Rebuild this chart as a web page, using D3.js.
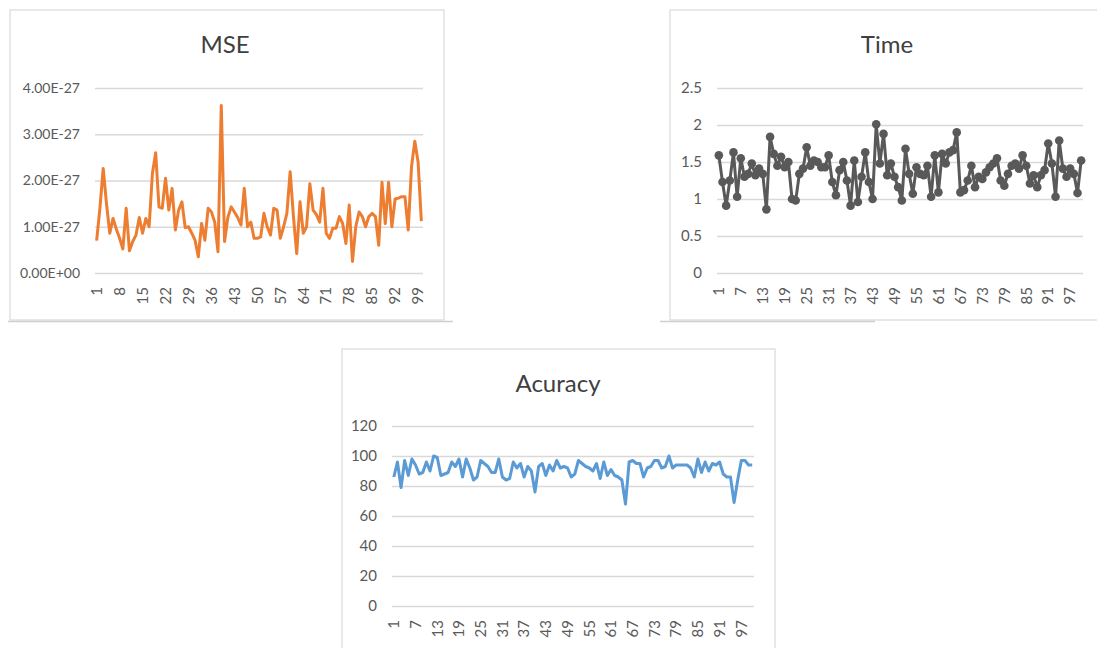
<!DOCTYPE html>
<html>
<head>
<meta charset="utf-8">
<script src="https://cdn.jsdelivr.net/npm/d3@7"></script>
<style>
  html, body { margin: 0; padding: 0; background: #ffffff; }
  svg { display: block; }
  text { font-family: Lato, "Open Sans", sans-serif; }
</style>
</head>
<body>
<svg id="chart" width="1097" height="648"></svg>
<script>
// Run index 1..100
const runs = d3.range(1, 101);

// MSE per run, mantissa in units of 1e-27
const mseMantissa = [
  0.70, 1.40, 2.26, 1.50, 0.86, 1.18, 0.95, 0.75, 0.52, 1.40,
  0.48, 0.68, 0.82, 1.20, 0.86, 1.18, 1.00, 2.15, 2.60, 1.43,
  1.40, 2.05, 1.36, 1.83, 0.93, 1.36, 1.54, 0.98, 1.00, 0.86,
  0.71, 0.35, 1.07, 0.71, 1.40, 1.32, 1.10, 0.46, 3.62, 0.68,
  1.20, 1.43, 1.32, 1.20, 1.04, 1.83, 1.00, 1.10, 0.75, 0.75,
  0.78, 1.29, 1.00, 0.82, 1.40, 1.36, 0.75, 1.00, 1.29, 2.19,
  1.22, 0.42, 1.54, 0.86, 1.00, 1.93, 1.36, 1.26, 1.10, 1.83,
  0.86, 0.75, 0.97, 0.97, 1.22, 1.07, 0.64, 1.47, 0.25, 1.00,
  1.32, 1.22, 1.00, 1.22, 1.29, 1.22, 0.60, 1.96, 1.07, 1.96,
  1.00, 1.60, 1.62, 1.65, 1.65, 0.93, 2.30, 2.85, 2.40, 1.12
];
const mseValues = mseMantissa.map(v => v * 1e-27);
const mseTicks = [0, 1e-27, 2e-27, 3e-27, 4e-27];

// Time per run
const timeValues = [
  1.59, 1.23, 0.91, 1.25, 1.63, 1.03, 1.55, 1.30, 1.34, 1.48,
  1.32, 1.41, 1.34, 0.86, 1.84, 1.61, 1.45, 1.57, 1.43, 1.50,
  1.00, 0.98, 1.34, 1.41, 1.70, 1.45, 1.52, 1.50, 1.43, 1.43,
  1.59, 1.23, 1.05, 1.39, 1.50, 1.25, 0.91, 1.52, 0.96, 1.30,
  1.63, 1.23, 1.00, 2.01, 1.48, 1.88, 1.32, 1.48, 1.30, 1.16,
  0.98, 1.68, 1.34, 1.07, 1.43, 1.34, 1.32, 1.45, 1.03, 1.59,
  1.09, 1.61, 1.48, 1.63, 1.66, 1.90, 1.09, 1.12, 1.25, 1.45,
  1.16, 1.30, 1.27, 1.36, 1.43, 1.48, 1.55, 1.25, 1.18, 1.34,
  1.45, 1.48, 1.41, 1.59, 1.45, 1.21, 1.32, 1.16, 1.32, 1.39,
  1.75, 1.48, 1.03, 1.79, 1.41, 1.30, 1.41, 1.34, 1.08, 1.52
];
const timeTicks = [0, 0.5, 1, 1.5, 2, 2.5];

// Accuracy per run
const accValues = [
  86, 96, 79, 97, 87, 98, 94, 88, 89, 96,
  90, 100, 99, 87, 88, 89, 96, 93, 98, 86,
  98, 92, 84, 86, 97, 95, 93, 89, 89, 98,
  86, 84, 85, 96, 92, 95, 86, 93, 90, 76,
  93, 95, 87, 94, 90, 97, 92, 93, 92, 86,
  88, 97, 95, 93, 92, 90, 95, 85, 96, 87,
  91, 87, 86, 84, 68, 96, 97, 95, 95, 86,
  92, 93, 97, 97, 92, 93, 100, 92, 94, 94,
  94, 94, 92, 86, 98, 89, 96, 90, 95, 94,
  96, 88, 86, 86, 69, 84, 97, 97, 94, 94
];
const accTicks = [0, 20, 40, 60, 80, 100, 120];

const svg = d3.select("#chart");
const GRID = "#d9d9d9";
const LABEL = "#595959";

function drawPanel(cfg) {
  const g = svg.append("g");

  // chart area frame
  g.append("rect")
    .attr("x", cfg.frame.x).attr("y", cfg.frame.y)
    .attr("width", cfg.frame.w).attr("height", cfg.frame.h)
    .attr("fill", "#ffffff").attr("stroke", GRID).attr("stroke-width", 1.2);

  // edge shadow line of the pasted chart
  if (cfg.edge) {
    g.append("line")
      .attr("x1", cfg.edge.x1).attr("x2", cfg.edge.x2)
      .attr("y1", cfg.edge.y).attr("y2", cfg.edge.y)
      .attr("stroke", "#cfcfcf").attr("stroke-width", 1.5);
  }

  const x = d3.scaleBand().domain(runs).range([cfg.plot.left, cfg.plot.right]).padding(0);
  const y = d3.scaleLinear().domain(cfg.yDomain).range([cfg.plot.bottom, cfg.plot.top]);
  const cx = d => x(d) + x.bandwidth() / 2;

  // horizontal gridlines with value labels
  const yAxis = d3.axisLeft(y)
    .tickValues(cfg.yTicks)
    .tickSize(-(cfg.plot.right - cfg.plot.left))
    .tickPadding(15)
    .tickFormat(cfg.yFormat);
  const ya = g.append("g")
    .attr("transform", `translate(${cfg.plot.left},0)`)
    .call(yAxis);
  ya.select(".domain").remove();
  ya.selectAll(".tick line").attr("stroke", GRID).attr("stroke-width", 1.6);
  ya.selectAll(".tick text")
    .attr("fill", LABEL)
    .style("font-size", cfg.yFontSize + "px");

  // rotated run labels
  const xAxis = d3.axisBottom(x)
    .tickValues(runs.filter(r => (r - 1) % cfg.xEvery === 0))
    .tickSize(0);
  const xa = g.append("g")
    .attr("transform", `translate(0,${cfg.plot.bottom})`)
    .call(xAxis);
  xa.select(".domain").remove();
  xa.selectAll(".tick text")
    .attr("transform", "rotate(-90)")
    .attr("x", -14)
    .attr("y", 0)
    .attr("dy", "0.35em")
    .attr("text-anchor", "end")
    .attr("fill", LABEL)
    .style("font-size", "15px");

  // title
  g.append("text")
    .attr("x", cfg.title.x).attr("y", cfg.title.y)
    .attr("text-anchor", "middle")
    .attr("fill", "#404040")
    .style("font-size", "24px")
    .text(cfg.title.text);

  // series line
  const line = d3.line()
    .x((d, i) => cx(runs[i]))
    .y(d => y(d));
  g.append("path")
    .datum(cfg.values)
    .attr("fill", "none")
    .attr("stroke", cfg.color)
    .attr("stroke-width", 3)
    .attr("stroke-linejoin", "round")
    .attr("d", line);

  if (cfg.markers) {
    g.selectAll("circle.pt")
      .data(cfg.values)
      .join("circle")
      .attr("class", "pt")
      .attr("cx", (d, i) => cx(runs[i]))
      .attr("cy", d => y(d))
      .attr("r", 4.3)
      .attr("fill", cfg.color);
  }
}

drawPanel({
  frame: { x: 10, y: 10, w: 434, h: 310 },
  edge: { x1: 8, x2: 453, y: 321.5 },
  plot: { left: 95, right: 423, top: 88, bottom: 273 },
  yDomain: [0, 4e-27],
  yTicks: mseTicks,
  yFormat: d => d === 0 ? "0.00E+00" : d.toExponential(2).toUpperCase(),
  yFontSize: 14,
  xEvery: 7,
  title: { text: "MSE", x: 225, y: 53 },
  values: mseValues,
  color: "#ED7D31",
  markers: false
});

drawPanel({
  frame: { x: 670, y: 10, w: 440, h: 310 },
  edge: { x1: 660, x2: 875, y: 321.5 },
  plot: { left: 717, right: 1083, top: 88, bottom: 273 },
  yDomain: [0, 2.5],
  yTicks: timeTicks,
  yFormat: d => String(d),
  yFontSize: 15,
  xEvery: 6,
  title: { text: "Time", x: 887, y: 53 },
  values: timeValues,
  color: "#595959",
  markers: true
});

drawPanel({
  frame: { x: 342, y: 349, w: 433, h: 310 },
  plot: { left: 392, right: 754, top: 426, bottom: 606 },
  yDomain: [0, 120],
  yTicks: accTicks,
  yFormat: d => String(d),
  yFontSize: 15,
  xEvery: 6,
  title: { text: "Acuracy", x: 558, y: 392 },
  values: accValues,
  color: "#5B9BD5",
  markers: false
});
</script>
</body>
</html>
